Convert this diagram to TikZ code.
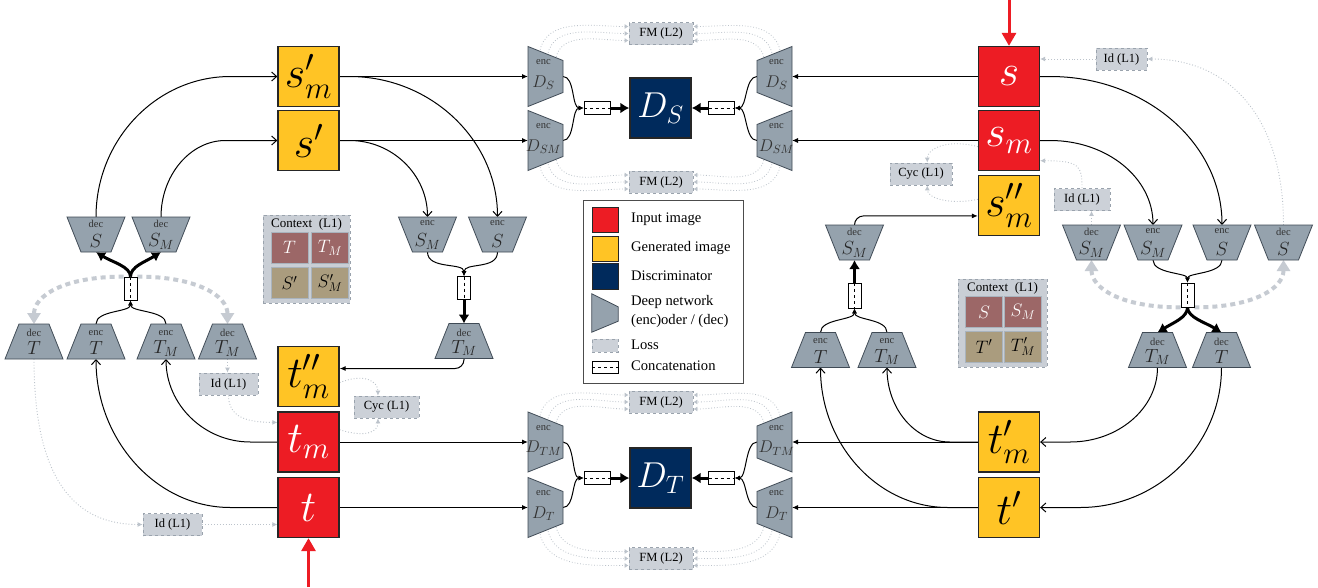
\RequirePackage{fix-cm}
\documentclass[tikz,border=0pt]{standalone}
\usepackage{fontspec}
\setmainfont{Liberation Serif}
\usetikzlibrary{arrows.meta,calc}
\pgfdeclarelayer{bg}
\pgfsetlayers{bg,main}

\definecolor{inred}{HTML}{ED1C24}
\definecolor{genyel}{HTML}{FFC425}
\definecolor{discnavy}{HTML}{002A5C}
\definecolor{netgray}{HTML}{95A2AD}
\definecolor{netedge}{HTML}{3F4A55}
\definecolor{lossfill}{HTML}{CCD1D8}
\definecolor{lossedge}{HTML}{9AA3AD}
\definecolor{dotgray}{HTML}{BCC3CB}
\definecolor{dashgray}{HTML}{C6CBD2}
\definecolor{ctxred}{HTML}{9C6767}
\definecolor{ctxtan}{HTML}{AA9C7E}
\definecolor{ctxfill}{HTML}{C9CED5}
\definecolor{ctxedge}{HTML}{A9B3BD}

\tikzset{
  imgbox/.style={rectangle, draw=black!85, line width=1.3pt, minimum width=61pt, minimum height=60pt, inner sep=0pt, font=\fontsize{44}{48}\selectfont},
  inimg/.style={imgbox, fill=inred, text=white},
  genimg/.style={imgbox, fill=genyel, text=black},
  discimg/.style={imgbox, fill=discnavy, text=white, font=\fontsize{36}{40}\selectfont},
  netbox/.style={rectangle, inner sep=0pt, outer sep=0pt, minimum width=58pt, minimum height=35pt},
  discbox/.style={rectangle, inner sep=0pt, outer sep=0pt, minimum width=35pt, minimum height=60pt},
  netfill/.style={fill=netgray, draw=netedge, line width=0.8pt},
  nettiny/.style={inner sep=0pt, font=\fontsize{10.5}{11}\selectfont, text=black!80},
  netmath/.style={inner sep=0pt, font=\fontsize{19}{20}\selectfont, text=black!85},
  discmath/.style={inner sep=0pt, font=\fontsize{17}{18}\selectfont, text=black!80},
  cathor/.style={rectangle, draw=black, fill=white, line width=0.8pt, minimum width=26pt, minimum height=13pt, inner sep=0pt,
    path picture={\draw[dashed, line width=0.6pt] (path picture bounding box.west) -- (path picture bounding box.east);}},
  catver/.style={rectangle, draw=black, fill=white, line width=0.8pt, minimum width=13pt, minimum height=23pt, inner sep=0pt,
    path picture={\draw[dashed, line width=0.6pt] (path picture bounding box.north) -- (path picture bounding box.south);}},
  loss/.style={rectangle, draw=lossedge, dashed, line width=0.8pt, fill=lossfill, inner sep=0pt, minimum height=22pt, font=\fontsize{12.5}{14}\selectfont},
  conn/.style={line width=1pt, draw=black},
  openarr/.style={conn, -{Straight Barb[length=5pt,width=9pt]}},
  fillarr/.style={conn, -{Latex[length=6pt,width=5pt]}},
  fillsm/.style={conn, -{Latex[length=5pt,width=5pt]}},
  thickarr/.style={line width=3pt, -{Latex[length=9pt,width=11pt]}},
  lossarr/.style={draw=dotgray, line width=0.9pt, dotted, -{Latex[length=5pt,width=5pt]}},
  fmarr/.style={draw=dotgray, line width=0.8pt, dotted, -{Latex[length=4pt,width=5pt]}},
  dasharr/.style={draw=dashgray, line width=4pt, dash pattern=on 5pt off 4pt, -{Triangle[length=11pt,width=13pt]}},
  redarr/.style={draw=inred, line width=3pt, -{Triangle[length=13pt,width=14pt]}},
  legtext/.style={anchor=west, inner sep=0pt, font=\fontsize{14.6}{16}\selectfont},
  ctxbg/.style={rectangle, draw=lossedge, dashed, line width=0.8pt, fill=ctxfill, minimum width=87pt, minimum height=88pt, inner sep=0pt},
  ctxtitle/.style={inner sep=0pt, font=\fontsize{13}{14}\selectfont},
  ctxcell/.style={rectangle, draw=ctxedge, line width=1pt, minimum width=37pt, minimum height=31pt, inner sep=0pt, font=\fontsize{18}{19}\selectfont},
  legbox/.style={rectangle, draw=black!70, line width=0.8pt, fill=white, minimum width=160pt, minimum height=183pt, inner sep=0pt},
}

% narrow top
\newcommand\netU[4]{%
  \node[netbox] (#1) at (#2) {};
  \filldraw[netfill] (#1.south west) -- (#1.south east) -- ($(#1.north east)+(-14,0)$) -- ($(#1.north west)+(14,0)$) -- cycle;
  \node[nettiny] (#1-w) at ($(#1.center)+(0,-8.5)$) {#3};
  \node[netmath] (#1-m) at ($(#1.center)+(0,7)$) {#4};
}
% narrow bottom
\newcommand\netD[4]{%
  \node[netbox] (#1) at (#2) {};
  \filldraw[netfill] (#1.north west) -- (#1.north east) -- ($(#1.south east)+(-14,0)$) -- ($(#1.south west)+(14,0)$) -- cycle;
  \node[nettiny] (#1-w) at ($(#1.center)+(0,-11)$) {#3};
  \node[netmath] (#1-m) at ($(#1.center)+(0,7)$) {#4};
}
% wide left, narrow right
\newcommand\netL[3]{%
  \node[discbox] (#1) at (#2) {};
  \filldraw[netfill] (#1.north west) -- ($(#1.north east)+(0,14)$) -- ($(#1.south east)+(0,-14)$) -- (#1.south west) -- cycle;
  \node[nettiny] (#1-w) at ($(#1.center)+(-2,-14)$) {enc};
  \node[discmath] (#1-m) at ($(#1.center)+(-2,6)$) {#3};
}
% wide right, narrow left
\newcommand\netR[3]{%
  \node[discbox] (#1) at (#2) {};
  \filldraw[netfill] (#1.north east) -- ($(#1.north west)+(0,14)$) -- ($(#1.south west)+(0,-14)$) -- (#1.south east) -- cycle;
  \node[nettiny] (#1-w) at ($(#1.center)+(2,-14)$) {enc};
  \node[discmath] (#1-m) at ($(#1.center)+(2,6)$) {#3};
}

\begin{document}
\begin{tikzpicture}[x=1pt,y=-1pt]
\useasboundingbox (0,0) rectangle (1318,587);
\begin{pgfonlayer}{bg}
\fill[white] (0,0) rectangle (1318,587);
\end{pgfonlayer}

% ---------- image boxes ----------
\node[genimg] (sm1) at (308.5,76.5) {$s'_m$};
\node[genimg] (sp) at (308.5,140.5) {$s'$};
\node[genimg] (tmpp) at (308.5,376.5) {$t''_m$};
\node[inimg] (tm) at (308.5,442) {$t_m$};
\node[inimg] (t) at (308.5,507.5) {$t$};
\node[inimg] (s) at (1009,76.5) {$s$};
\node[inimg] (smR) at (1009,140.5) {$s_m$};
\node[genimg] (smpp) at (1009,205.5) {$s''_m$};
\node[genimg] (tpm) at (1009,442) {$t'_m$};
\node[genimg] (tp) at (1009,507.5) {$t'$};
\node[discimg] (DS) at (660.5,108) {$D_S$};
\node[discimg] (DT) at (660.5,478) {$D_T$};

% ---------- discriminator encoders ----------
\netL{eDSl}{545.5,76.5}{$D_S$}
\netL{eDSMl}{545.5,140.5}{$D_{SM}$}
\netR{eDSr}{774.5,76.5}{$D_S$}
\netR{eDSMr}{774.5,140.5}{$D_{SM}$}
\netL{eDTMl}{545.5,442}{$D_{TM}$}
\netL{eDTl}{545.5,507.5}{$D_T$}
\netR{eDTMr}{774.5,442}{$D_{TM}$}
\netR{eDTr}{774.5,507.5}{$D_T$}
\node[cathor] (catSl) at (597,108) {};
\node[cathor] (catSr) at (721.5,108) {};
\node[cathor] (catTl) at (597,478) {};
\node[cathor] (catTr) at (721.5,478) {};

% ---------- loss boxes ----------
\node[loss, minimum width=64pt] (FMs1) at (661,33.5) {FM (L2)};
\node[loss, minimum width=64pt] (FMs2) at (661,182) {FM (L2)};
\node[loss, minimum width=64pt] (FMt1) at (661,402) {FM (L2)};
\node[loss, minimum width=64pt] (FMt2) at (661,558.5) {FM (L2)};
\node[loss, minimum width=51pt] (IdRt) at (1121.5,59) {Id (L1)};
\node[loss, minimum width=62pt] (CycR) at (921,174) {Cyc (L1)};
\node[loss, minimum width=56pt] (IdRm) at (1082,199.5) {Id (L1)};
\node[loss, minimum width=59pt] (IdL) at (228.5,384) {Id (L1)};
\node[loss, minimum width=65pt] (CycL) at (386.5,407) {Cyc (L1)};
\node[loss, minimum width=59pt] (IdLb) at (172.5,524.5) {Id (L1)};

% ---------- left cluster ----------
\netD{decS_L}{96,234.5}{dec}{$S$}
\netD{decSM_L}{161,234.5}{dec}{$S_M$}
\node[catver] (catL) at (130.5,288.5) {};
\netU{decT_L}{34,341.5}{dec}{$T$}
\netU{encT_L}{96,341.5}{enc}{$T$}
\netU{encTM_L}{166,341.5}{enc}{$T_M$}
\netU{decTM_L}{227.5,341.5}{dec}{$T_M$}

% ---------- middle-left cluster ----------
\netD{encSM_ML}{427.5,234.5}{enc}{$S_M$}
\netD{encS_ML}{497.5,234.5}{enc}{$S$}
\node[catver] (catML) at (464,288) {};
\netU{decTM_ML}{464,341}{dec}{$T_M$}

% ---------- middle-right cluster ----------
\netD{decSM_MR}{854.5,242.5}{dec}{$S_M$}
\node[catver, minimum height=25pt] (catMR) at (854.5,295.5) {};
\netU{encT_MR}{820.5,350}{enc}{$T$}
\netU{encTM_MR}{887,350}{enc}{$T_M$}

% ---------- right cluster ----------
\netD{decSM_R}{1091.5,242.5}{dec}{$S_M$}
\netD{encSM_R}{1153,242.5}{enc}{$S_M$}
\netD{encS_R}{1222,242.5}{enc}{$S$}
\netD{decS_R}{1283.5,242.5}{dec}{$S$}
\node[catver, minimum height=24pt] (catR) at (1187.5,295) {};
\netU{decTM_R}{1157.5,350}{dec}{$T_M$}
\netU{decT_R}{1221.5,350}{dec}{$T$}

% ---------- context boxes ----------
\node[ctxbg] (ctxL) at (306.5,259) {};
\node[ctxtitle] (ctxLt) at (306.5,224) {Context\ \ (L1)};
\node[ctxcell, fill=ctxred, text=white] (cL1) at (289.5,247.5) {$T$};
\node[ctxcell, fill=ctxred, text=white] (cL2) at (330,247.5) {$T_M$};
\node[ctxcell, fill=ctxtan] (cL3) at (289.5,283) {$S'$};
\node[ctxcell, fill=ctxtan] (cL4) at (330,283) {$S'_M$};

\node[ctxbg, minimum width=89pt] (ctxR) at (1002.5,323) {};
\node[ctxtitle] (ctxRt) at (1002.5,288) {Context\ \ (L1)};
\node[ctxcell, fill=ctxred, text=white] (cR1) at (984,312) {$S$};
\node[ctxcell, fill=ctxred, text=white] (cR2) at (1023,312) {$S_M$};
\node[ctxcell, fill=ctxtan] (cR3) at (984,346.5) {$T'$};
\node[ctxcell, fill=ctxtan] (cR4) at (1023,346.5) {$T'_M$};

% ---------- legend ----------
\node[legbox] (leg) at (663,291.5) {};
\node[inimg, minimum width=26pt, minimum height=25pt, line width=1pt] (lgR) at (605,220) {};
\node[legtext] (lgRt) at (631,219) {Input image};
\node[genimg, minimum width=26pt, minimum height=25pt, line width=1pt] (lgY) at (605,248.5) {};
\node[legtext] (lgYt) at (631,248) {Generated image};
\node[discimg, minimum width=26pt, minimum height=26pt, line width=1pt] (lgN) at (605,276.5) {};
\node[legtext] (lgNt) at (631,276) {Discriminator};
\node[rectangle, minimum width=26pt, minimum height=38pt, inner sep=0pt] (lgT) at (605,313) {};
\filldraw[netfill] (lgT.north west) -- ($(lgT.north east)+(0,13)$) -- ($(lgT.south east)+(0,-11)$) -- (lgT.south west) -- cycle;
\node[legtext] (lgTt1) at (631,302) {Deep network};
\node[legtext] (lgTt2) at (631,321) {(enc)oder / (dec)};
\node[loss, minimum width=26pt, minimum height=13pt] (lgL) at (605,345.5) {};
\node[legtext] (lgLt) at (631,345) {Loss};
\node[cathor, minimum width=26pt, minimum height=12pt] (lgC) at (605,367) {};
\node[legtext] (lgCt) at (631,366) {Concatenation};

% ---------- connectors ----------
\coordinate (topin) at (1009,0);
\coordinate (botin) at (308.5,587);
\begin{pgfonlayer}{bg}
% left
\draw[openarr] (decS_L.north) .. controls +(0,-77) and +(-74,0) .. ($(sm1.west)+(-47,0)$) -- (sm1.west);
\draw[openarr] (decSM_L.north) .. controls +(0,-42) and +(-35,0) .. ($(sp.west)+(-52,0)$) -- (sp.west);
\draw[openarr] (sm1.east) -- ++(10,0) .. controls +(81,0) and +(0,-77) .. (encS_ML.north);
\draw[openarr] (sp.east) -- ++(10,0) .. controls +(43,0) and +(0,-42) .. (encSM_ML.north);
\draw[fillarr] (sm1.east) -- (eDSl.west);
\draw[fillarr] (sp.east) -- (eDSMl.west);
\draw[fillsm] (encSM_ML.south) .. controls +(0,18) and +(0,-14) .. (catML.north);
\draw[fillsm] (encS_ML.south) .. controls +(0,18) and +(0,-14) .. (catML.north);
\draw[thickarr] (catML.south) -- (decTM_ML.north);
\draw[fillarr, rounded corners=9pt] (decTM_ML.south) |- ($(tmpp.north east)!0.37!(tmpp.south east)$);
\draw[openarr] (tm.west) -- ++(-27,0) .. controls +(-46,0) and +(0,46) .. (encTM_L.south);
\draw[openarr] (t.west) -- ++(-47,0) .. controls +(-74,0) and +(0,81) .. (encT_L.south);
\draw[fillsm] (encT_L.north) .. controls +(0,-14) and +(0,12) .. (catL.south);
\draw[fillsm] (encTM_L.north) .. controls +(0,-14) and +(0,12) .. (catL.south);
\draw[thickarr] (catL.north) .. controls +(0,-10) and +(16,10) .. (decS_L.south);
\draw[thickarr] (catL.north) .. controls +(0,-10) and +(-16,10) .. (decSM_L.south);
\draw[dasharr] (catL.north west) .. controls +(-60,0) and +(0,-28) .. (decT_L.north);
\draw[dasharr] (catL.north east) .. controls +(60,0) and +(0,-28) .. (decTM_L.north);
\draw[fillarr] (tm.east) -- (eDTMl.west);
\draw[fillarr] (t.east) -- (eDTl.west);
% left losses
\draw[lossarr] (decT_L.south) .. controls +(0,110) and +(-75,0) .. (IdLb.west);
\draw[lossarr] (IdLb.east) -- (IdLb.east -| t.west);
\draw[lossarr] (decTM_L.south) -- (decTM_L.south |- IdL.north);
\draw[lossarr] (IdL.south) .. controls +(0,22) and +(-30,0) .. ($(tm.north west)!0.18!(tm.south west)$);
\draw[lossarr] ($(tmpp.north east)!0.6!(tmpp.south east)$) .. controls +(25,-10) and +(0,-14) .. ($(CycL.north west)!0.37!(CycL.north east)$);
\draw[lossarr] ($(tm.north east)!0.3!(tm.south east)$) .. controls +(25,8) and +(0,14) .. ($(CycL.south west)!0.37!(CycL.south east)$);
% right
\draw[fillarr] (s.west) -- (eDSr.east);
\draw[fillarr] (smR.west) -- (eDSMr.east);
\draw[openarr] (s.east) -- ++(10,0) .. controls +(95,0) and +(0,-82) .. (encS_R.north);
\draw[openarr] (smR.east) -- ++(10,0) .. controls +(57,0) and +(0,-47) .. (encSM_R.north);
\draw[fillsm] (encSM_R.south) .. controls +(0,14) and +(0,-10) .. (catR.north);
\draw[fillsm] (encS_R.south) .. controls +(0,14) and +(0,-10) .. (catR.north);
\draw[thickarr] (catR.south) .. controls +(0,10) and +(16,-10) .. (decTM_R.north);
\draw[thickarr] (catR.south) .. controls +(0,10) and +(-16,-10) .. (decT_R.north);
\draw[dasharr] (catR.south west) .. controls +(-60,0) and +(0,28) .. (decSM_R.south);
\draw[dasharr] (catR.south east) .. controls +(60,0) and +(0,28) .. (decS_R.south);
\draw[openarr] (decTM_R.south) .. controls +(0,41) and +(48,0) .. ($(tpm.east)+(30,0)$) -- (tpm.east);
\draw[openarr] (decT_R.south) .. controls +(0,77) and +(78,0) .. ($(tp.east)+(40,0)$) -- (tp.east);
\draw[fillarr] (tpm.west) -- (eDTMr.east);
\draw[fillarr] (tp.west) -- (eDTr.east);
\draw[openarr] (tpm.west) -- ++(-28,0) .. controls +(-35,0) and +(0,41) .. (encTM_MR.south);
\draw[openarr] (tp.west) -- ++(-30,0) .. controls +(-70,0) and +(0,77) .. (encT_MR.south);
\draw[fillsm] (encT_MR.north) .. controls +(0,-14) and +(0,12) .. (catMR.south);
\draw[fillsm] (encTM_MR.north) .. controls +(0,-14) and +(0,12) .. (catMR.south);
\draw[thickarr] (catMR.north) -- (decSM_MR.south);
\draw[fillarr, rounded corners=9pt] (decSM_MR.north) |- ($(smpp.north west)!0.67!(smpp.south west)$);
% right losses
\draw[lossarr] (decSM_R.north) -- (decSM_R.north |- IdRm.south);
\draw[lossarr] (IdRm.north) .. controls +(0,-22) and +(40,0) .. ($(smR.north east)!0.83!(smR.south east)$);
\draw[lossarr] (decS_R.north) .. controls +(0,-110) and +(80,0) .. (IdRt.east);
\draw[lossarr] (IdRt.west) -- (IdRt.west -| s.east);
\draw[lossarr] ($(smR.north west)!0.6!(smR.south west)$) .. controls +(-30,-8) and +(0,-14) .. ($(CycR.north west)!0.6!(CycR.north east)$);
\draw[lossarr] ($(smpp.north west)!0.4!(smpp.south west)$) .. controls +(-30,6) and +(0,12) .. ($(CycR.south west)!0.6!(CycR.south east)$);
% discriminators
\draw[fillsm] (eDSl.east) .. controls +(12,0) and +(-12,0) .. (catSl.west);
\draw[fillsm] (eDSMl.east) .. controls +(12,0) and +(-12,0) .. (catSl.west);
\draw[thickarr] (catSl.east) -- (DS.west);
\draw[fillsm] (eDSr.west) .. controls +(-12,0) and +(12,0) .. (catSr.east);
\draw[fillsm] (eDSMr.west) .. controls +(-12,0) and +(12,0) .. (catSr.east);
\draw[thickarr] (catSr.west) -- (DS.east);
\draw[fillsm] (eDTMl.east) .. controls +(12,0) and +(-12,0) .. (catTl.west);
\draw[fillsm] (eDTl.east) .. controls +(12,0) and +(-12,0) .. (catTl.west);
\draw[thickarr] (catTl.east) -- (DT.west);
\draw[fillsm] (eDTMr.west) .. controls +(-12,0) and +(12,0) .. (catTr.east);
\draw[fillsm] (eDTr.west) .. controls +(-12,0) and +(12,0) .. (catTr.east);
\draw[thickarr] (catTr.west) -- (DT.east);
% FM arcs
\foreach \src/\fm in {eDSl/FMs1, eDTMl/FMt1}{
  \draw[fmarr] ($(\src.center)+(-6,-24)$) to[out=80,in=180] ($(\fm.west)+(0,-7)$);
  \draw[fmarr] ($(\src.center)+(2,-21)$) to[out=80,in=180] (\fm.west);
  \draw[fmarr] ($(\src.center)+(10,-17)$) to[out=80,in=180] ($(\fm.west)+(0,7)$);
}
\foreach \src/\fm in {eDSr/FMs1, eDTMr/FMt1}{
  \draw[fmarr] ($(\src.center)+(6,-24)$) to[out=100,in=0] ($(\fm.east)+(0,-7)$);
  \draw[fmarr] ($(\src.center)+(-2,-21)$) to[out=100,in=0] (\fm.east);
  \draw[fmarr] ($(\src.center)+(-10,-17)$) to[out=100,in=0] ($(\fm.east)+(0,7)$);
}
\foreach \src/\fm in {eDSMl/FMs2, eDTl/FMt2}{
  \draw[fmarr] ($(\src.center)+(-6,24)$) to[out=-80,in=180] ($(\fm.west)+(0,7)$);
  \draw[fmarr] ($(\src.center)+(2,21)$) to[out=-80,in=180] (\fm.west);
  \draw[fmarr] ($(\src.center)+(10,17)$) to[out=-80,in=180] ($(\fm.west)+(0,-7)$);
}
\foreach \src/\fm in {eDSMr/FMs2, eDTr/FMt2}{
  \draw[fmarr] ($(\src.center)+(6,24)$) to[out=-100,in=0] ($(\fm.east)+(0,7)$);
  \draw[fmarr] ($(\src.center)+(-2,21)$) to[out=-100,in=0] (\fm.east);
  \draw[fmarr] ($(\src.center)+(-10,17)$) to[out=-100,in=0] ($(\fm.east)+(0,-7)$);
}
\end{pgfonlayer}
\draw[redarr] (topin) -- (s.north);
\draw[redarr] (botin) -- (t.south);
\end{tikzpicture}
\end{document}
